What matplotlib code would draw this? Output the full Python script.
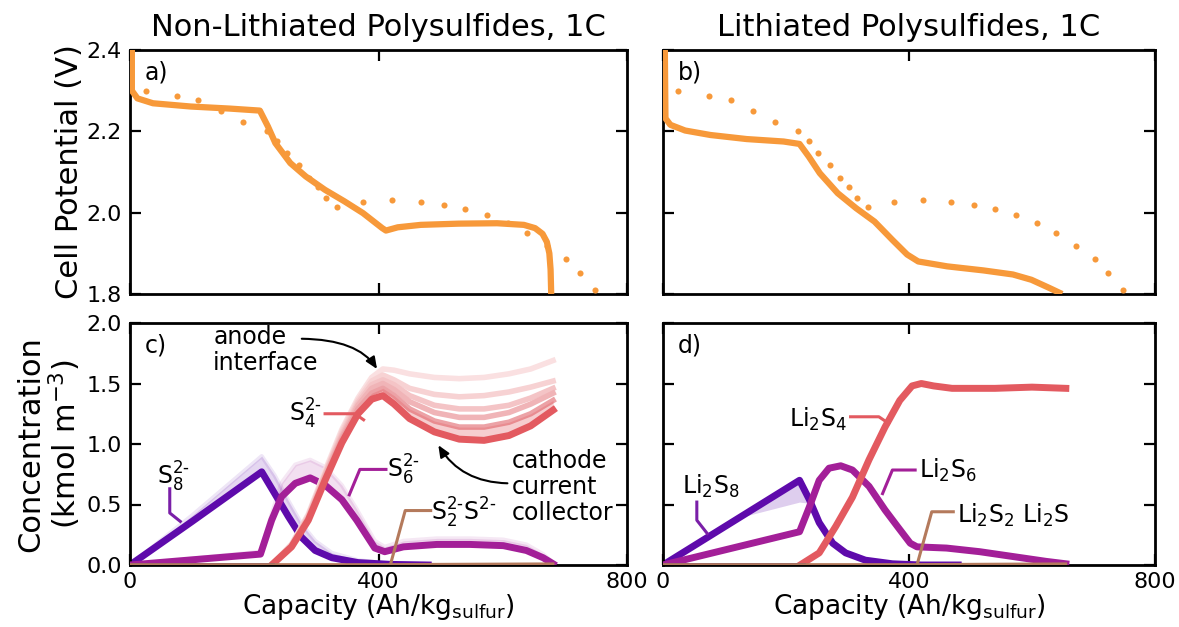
import matplotlib
matplotlib.use("Agg")
import matplotlib.pyplot as plt

plt.rcParams['font.family'] = ['DejaVu Sans']
plt.rcParams['mathtext.fontset'] = 'dejavusans'

# ---------------- data ----------------
titles = ["Non-Lithiated Polysulfides, 1C", "Lithiated Polysulfides, 1C"]
panel_letters = ["a)", "b)", "c)", "d)"]
x_ticks = [0, 400, 800]
x_ticklabels = ["0", "400", "800"]
v_ticks = [1.8, 2.0, 2.2, 2.4]
v_ticklabels = ["1.8", "2.0", "2.2", "2.4"]
c_ticks = [0.0, 0.5, 1.0, 1.5, 2.0]
c_ticklabels = ["0.0", "0.5", "1.0", "1.5", "2.0"]

# experimental discharge points (same in a and b)
exp_cap = [25, 75, 110, 147, 182, 220, 237, 252, 272, 288, 303, 316, 334, 375,
           422, 468, 506, 540, 574, 608, 639, 672, 702, 724, 748]
exp_v = [2.300, 2.288, 2.276, 2.250, 2.223, 2.200, 2.175, 2.146, 2.117, 2.086,
         2.064, 2.035, 2.015, 2.027, 2.030, 2.027, 2.020, 2.010, 1.995, 1.975,
         1.950, 1.917, 1.887, 1.852, 1.811]

# simulated potential, non-lithiated
cap_a = [3, 3, 12, 37, 98, 160, 209, 222, 234, 258, 283, 314, 345, 375, 406,
         412, 431, 468, 529, 591, 634, 652, 664, 671, 675, 677, 678]
v_a = [2.40, 2.30, 2.281, 2.269, 2.261, 2.256, 2.251, 2.212, 2.171, 2.122,
       2.089, 2.056, 2.028, 1.999, 1.962, 1.956, 1.964, 1.970, 1.973, 1.974,
       1.970, 1.962, 1.948, 1.928, 1.900, 1.860, 1.80]

# simulated potential, lithiated
cap_b = [3, 4, 12, 36, 77, 136, 196, 222, 237, 255, 284, 314, 344, 373, 397,
         415, 462, 521, 569, 599, 628, 649]
v_b = [2.40, 2.232, 2.216, 2.202, 2.191, 2.181, 2.175, 2.169, 2.138, 2.097,
       2.048, 2.011, 1.978, 1.933, 1.897, 1.880, 1.868, 1.858, 1.848, 1.835,
       1.815, 1.80]

# panel c: non-lithiated species (cathode current collector = main, anode interface = top)
s8_x = [0, 100, 212, 233, 255, 276, 298, 325, 367, 420, 480]
s8_main = [0.0, 0.36, 0.77, 0.59, 0.40, 0.23, 0.12, 0.06, 0.02, 0.005, 0.0]
s8_top = [0.0, 0.41, 0.90, 0.74, 0.53, 0.34, 0.20, 0.10, 0.04, 0.01, 0.0]

s6_x = [0, 210, 228, 244, 266, 290, 314, 341, 365, 394, 410, 440, 494, 547,
        601, 638, 665, 681]
s6_main = [0.0, 0.09, 0.37, 0.565, 0.675, 0.72, 0.66, 0.54, 0.37, 0.14, 0.11,
           0.15, 0.17, 0.17, 0.16, 0.12, 0.06, 0.01]
s6_top = [0.0, 0.11, 0.42, 0.68, 0.83, 0.87, 0.81, 0.66, 0.46, 0.20, 0.15,
          0.20, 0.22, 0.22, 0.21, 0.17, 0.09, 0.02]

s4_x = [228, 260, 287, 314, 341, 367, 389, 407, 425, 450, 490, 530, 570, 610, 645, 681]
s4_main = [0.0, 0.15, 0.37, 0.70, 1.01, 1.25, 1.37, 1.40, 1.33, 1.21, 1.10, 1.04, 1.03, 1.07, 1.15, 1.28]
s4_l5 = [0.0, 0.15, 0.38, 0.72, 1.04, 1.29, 1.42, 1.46, 1.40, 1.29, 1.19, 1.14, 1.14, 1.18, 1.25, 1.36]
s4_l4 = [0.0, 0.16, 0.39, 0.74, 1.06, 1.32, 1.46, 1.50, 1.45, 1.35, 1.26, 1.22, 1.22, 1.26, 1.33, 1.42]
s4_l3 = [0.0, 0.16, 0.40, 0.75, 1.08, 1.34, 1.49, 1.53, 1.49, 1.40, 1.32, 1.29, 1.29, 1.32, 1.38, 1.46]
s4_l2 = [0.0, 0.17, 0.41, 0.76, 1.10, 1.36, 1.52, 1.57, 1.53, 1.46, 1.41, 1.39, 1.40, 1.43, 1.47, 1.52]
s4_top = [0.0, 0.17, 0.42, 0.78, 1.12, 1.38, 1.55, 1.62, 1.61, 1.58, 1.55, 1.54, 1.55, 1.58, 1.62, 1.69]

s2_x = [0, 400, 681]
s2_c = [0.004, 0.004, 0.01]
s8s_x = [0, 230]
s8s_c = [0.008, 0.008]

# panel d: lithiated species
li8_x = [0, 130, 222, 238, 254, 276, 297, 329, 373, 420, 480]
li8_main = [0.0, 0.41, 0.70, 0.54, 0.35, 0.18, 0.10, 0.04, 0.01, 0.0, 0.0]
li8_low = [0.0, 0.40, 0.52, 0.51, 0.34, 0.175, 0.095, 0.037, 0.01, 0.0, 0.0]

li6_x = [0, 222, 238, 254, 270, 289, 308, 335, 361, 381, 402, 413, 461, 515, 569, 623, 655]
li6_main = [0.0, 0.275, 0.48, 0.70, 0.80, 0.82, 0.785, 0.65, 0.455, 0.32, 0.18,
            0.15, 0.14, 0.11, 0.07, 0.03, 0.01]

li4_x = [223, 254, 281, 308, 335, 361, 385, 405, 420, 440, 470, 540, 600, 655]
li4_main = [0.0, 0.10, 0.32, 0.56, 0.87, 1.14, 1.36, 1.48, 1.50, 1.48, 1.46, 1.46, 1.47, 1.46]

li2_x = [0, 400, 655]
li2_c = [0.004, 0.004, 0.01]

# ---------------- styles ----------------
ORANGE = '#f7993a'
C_S8 = '#5e0aab'
C_S6 = '#a31f98'
C_S4 = '#e35a60'
C_S2 = '#b47a5c'
C_NAVY = '#1a1a8c'
C_LEAD8 = '#7a1fa8'
HY = '\u2010'  # short hyphen used in charge labels

fig = plt.figure(figsize=(11.79, 6.27), dpi=100)
W, H = 1179.0, 627.0
axA = fig.add_axes([130 / W, 1 - 294 / H, 497 / W, 244 / H])
axB = fig.add_axes([663 / W, 1 - 294 / H, 492 / W, 244 / H])
axC = fig.add_axes([130 / W, 1 - 565 / H, 497 / W, 242 / H])
axD = fig.add_axes([663 / W, 1 - 565 / H, 492 / W, 242 / H])

TICK_FS = 16
LAB_FS = 22
XLAB_FS = 19
ANN_FS = 17


def style(ax, yt, ytl, ylim, show_x, show_y):
    ax.set_xlim(0, 800)
    ax.set_ylim(*ylim)
    ax.set_xticks(x_ticks)
    ax.set_xticklabels(x_ticklabels)
    ax.set_yticks(yt)
    ax.set_yticklabels(ytl)
    ax.tick_params(direction='in', length=8, width=1.6, top=True, right=True,
                   labelsize=TICK_FS, colors='black')
    ax.tick_params(axis='x', pad=5)
    ax.tick_params(axis='y', pad=6)
    if not show_x:
        ax.tick_params(labelbottom=False)
    if not show_y:
        ax.tick_params(labelleft=False)
    for s in ax.spines.values():
        s.set_linewidth(2.0)


style(axA, v_ticks, v_ticklabels, (1.8, 2.4), False, True)
style(axB, v_ticks, v_ticklabels, (1.8, 2.4), False, False)
style(axC, c_ticks, c_ticklabels, (0.0, 2.0), True, True)
style(axD, c_ticks, c_ticklabels, (0.0, 2.0), True, False)

# ---- potentials ----
for ax, cx, cv in [(axA, cap_a, v_a), (axB, cap_b, v_b)]:
    ax.plot(cx, cv, color=ORANGE, lw=4.5, solid_capstyle='butt',
            solid_joinstyle='round', zorder=3)
    ax.plot(exp_cap, exp_v, 'o', color=ORANGE, ms=4.4, mec='none', zorder=4)

axA.set_title(titles[0], fontsize=LAB_FS, pad=10)
axB.set_title(titles[1], fontsize=LAB_FS, pad=10)
axA.set_ylabel('Cell Potential (V)', fontsize=LAB_FS, labelpad=2)
axC.set_ylabel('Concentration\n(kmol m$^{-3}$)', fontsize=LAB_FS, labelpad=2,
               linespacing=1.05)
for ax in (axC, axD):
    ax.set_xlabel(r'Capacity (Ah/kg$_{\mathregular{sulfur}}$)', fontsize=XLAB_FS,
                  labelpad=0)

for ax, letter in zip([axA, axB, axC, axD], panel_letters):
    ax.text(0.03, 0.955, letter, transform=ax.transAxes, fontsize=ANN_FS,
            va='top', ha='left')

# ---- panel c ----
axC.fill_between(s8_x, s8_main, s8_top, color=C_S8, alpha=0.16, lw=0, zorder=1)
axC.plot(s8_x, s8_top, color=C_S8, alpha=0.10, lw=3, zorder=1)
axC.plot(s8_x, s8_main, color=C_S8, lw=5, zorder=2)

axC.fill_between(s6_x, s6_main, s6_top, color=C_S6, alpha=0.14, lw=0, zorder=2)
axC.plot(s6_x, s6_top, color=C_S6, alpha=0.10, lw=3, zorder=2)
axC.plot(s6_x, s6_main, color=C_S6, lw=5, zorder=3)

for ys, col in [(s4_top, '#fae0e1'), (s4_l2, '#f7d2d3'), (s4_l3, '#f4c4c6'),
                (s4_l4, '#f0b4b7'), (s4_l5, '#eca2a6')]:
    axC.plot(s4_x, ys, color=col, lw=4, zorder=3)
axC.fill_between(s4_x, s4_main, s4_l5, color=C_S4, alpha=0.30, lw=0, zorder=3)
axC.plot(s4_x, s4_main, color=C_S4, lw=5, zorder=4)

axC.plot(s8s_x, s8s_c, color=C_NAVY, lw=2, zorder=4)
axC.plot(s2_x, s2_c, color=C_S2, lw=2, zorder=4)

# labels + leaders panel c
axC.text(70, 0.73, 'S$_8^{2' + HY + '}$', fontsize=ANN_FS, ha='center', va='center')
axC.plot([64, 64, 81], [0.63, 0.43, 0.36], color=C_LEAD8, lw=2.2, zorder=5)
axC.text(282, 1.25, 'S$_4^{2' + HY + '}$', fontsize=ANN_FS, ha='center', va='center')
axC.plot([314, 362, 376], [1.25, 1.25, 1.20], color=C_S4, lw=2.2, zorder=5)
axC.text(414, 0.79, 'S$_6^{2' + HY + '}$', fontsize=ANN_FS, ha='left', va='center')
axC.plot([412, 370, 353], [0.79, 0.79, 0.58], color=C_S6, lw=2.2, zorder=5)
axC.text(485, 0.43, 'S$_2^{2' + HY + '}$S$^{2' + HY + '}$', fontsize=ANN_FS,
         ha='left', va='center')
axC.plot([484, 443, 419], [0.45, 0.45, 0.0], color=C_S2, lw=2.2, zorder=5)

axC.text(134, 1.777, 'anode\ninterface', fontsize=ANN_FS, ha='left', va='center',
         linespacing=1.1)
axC.annotate('', xy=(400, 1.60), xytext=(272, 1.87),
             arrowprops=dict(arrowstyle='-|>,head_length=0.7,head_width=0.3',
                             color='black', lw=1.5,
                             connectionstyle='angle3,angleA=0,angleB=120'),
             zorder=6)
axC.text(614, 0.647, 'cathode\ncurrent\ncollector', fontsize=ANN_FS, ha='left',
         va='center', linespacing=1.1)
axC.annotate('', xy=(494, 1.01), xytext=(612, 0.675),
             arrowprops=dict(arrowstyle='-|>,head_length=0.7,head_width=0.3',
                             color='black', lw=1.5,
                             connectionstyle='angle3,angleA=0,angleB=120'),
             zorder=6)

# ---- panel d ----
axD.fill_between(li8_x, li8_low, li8_main, color=C_S8, alpha=0.2, lw=0, zorder=1)
axD.plot(li8_x, li8_main, color=C_S8, lw=5, zorder=2)
axD.plot(li6_x, li6_main, color=C_S6, lw=5, zorder=3)
axD.plot(li4_x, li4_main, color=C_S4, lw=5, zorder=4)
axD.plot(s8s_x, s8s_c, color=C_NAVY, lw=2, zorder=4)
axD.plot(li2_x, li2_c, color=C_S2, lw=2, zorder=4)

axD.text(78, 0.647, r'Li$_2$S$_8$', fontsize=ANN_FS, ha='center', va='center')
axD.plot([55, 55, 72], [0.52, 0.37, 0.26], color=C_LEAD8, lw=2.2, zorder=5)
axD.text(252, 1.20, r'Li$_2$S$_4$', fontsize=ANN_FS, ha='center', va='center')
axD.plot([305, 351, 367], [1.225, 1.225, 1.17], color=C_S4, lw=2.2, zorder=5)
axD.text(416, 0.785, r'Li$_2$S$_6$', fontsize=ANN_FS, ha='left', va='center')
axD.plot([410, 373, 357], [0.785, 0.785, 0.59], color=C_S6, lw=2.2, zorder=5)
axD.text(478, 0.413, r'Li$_2$S$_2$ Li$_2$S', fontsize=ANN_FS, ha='left', va='center')
axD.plot([472, 437, 413], [0.44, 0.44, 0.0], color=C_S2, lw=2.2, zorder=5)

fig.savefig('out.png', dpi=100)
